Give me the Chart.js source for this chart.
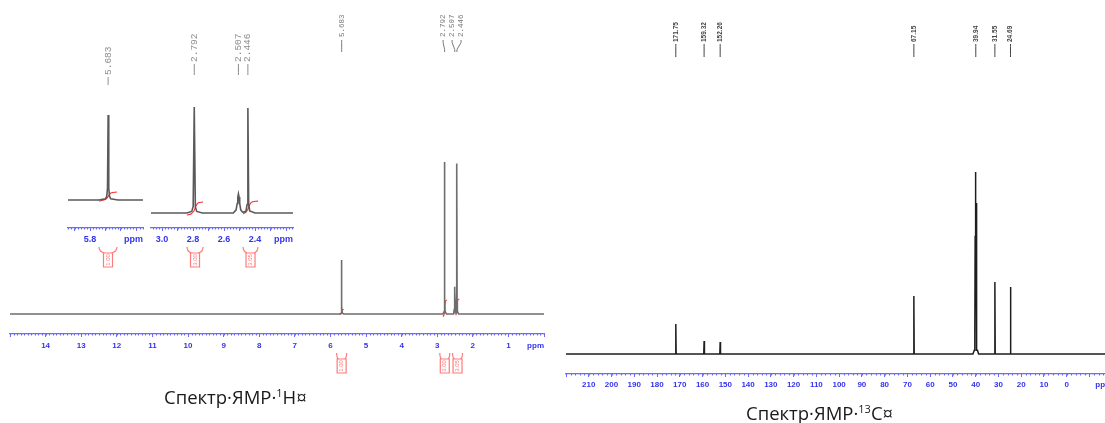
<!DOCTYPE html>
<html>
<head>
<meta charset="utf-8">
<script src="https://cdn.jsdelivr.net/npm/chart.js@4.4.1/dist/chart.umd.min.js"></script>
<style>
  body { margin: 0; background: #fff; }
  #page { position: relative; width: 1105px; height: 423px; overflow: hidden; background: #fff; }
  .holder { position: absolute; }
  .caption { position: absolute; font-family: 'Open Sans', sans-serif; font-size: 18.5px; line-height: 22px;
             color: #1a1a1a; white-space: nowrap; }
  .caption sup { font-size: 11px; vertical-align: 7px; line-height: 0; }
</style>
</head>
<body>
<div id="page">
  <div class="holder"><canvas id="h1Main"></canvas></div>
  <div class="holder"><canvas id="h1ZoomA"></canvas></div>
  <div class="holder"><canvas id="h1ZoomB"></canvas></div>
  <div class="holder"><canvas id="c13Main"></canvas></div>
  <div class="caption" style="left:164px;top:386px;">Спектр·ЯМР·<sup>1</sup>H¤</div>
  <div class="caption" style="left:746px;top:402px;">Спектр·ЯМР·<sup>13</sup>С¤</div>
</div>
<script>
/* ---------- data ---------- */

/* 1H trace: ppm / relative intensity (2.792 peak = 100) */
const h1Ppm = [15.0, 5.742, 5.700, 5.692, 5.687, 5.683, 5.679, 5.674, 5.666, 5.620,
               2.840, 2.808, 2.799, 2.792, 2.785, 2.776, 2.740,
               2.540, 2.522, 2.515, 2.511, 2.507, 2.503, 2.499, 2.492, 2.480,
               2.470, 2.458, 2.451, 2.446, 2.441, 2.434, 2.400, 0.0];
const h1Int = [0, 0, 0.5, 1.5, 5, 35.5, 5, 1.5, 0.5, 0,
               0, 1.5, 6, 100, 6, 1.5, 0,
               0, 3, 9, 15, 18, 15, 9, 3, 0.8,
               1, 2, 8, 99, 8, 2, 0, 0];

/* 1H integral curves (ppm / integral, 1H = 1.00) */
const intAPpm = [5.742, 5.710, 5.690, 5.677, 5.665, 5.626];
const intAVal = [-0.12, 0, 0.25, 0.62, 0.88, 1.0];
const intBPpm = [2.839, 2.813, 2.794, 2.781, 2.768, 2.735];
const intBVal = [-0.55, -0.27, 0.55, 1.9, 2.73, 3.0];
const intCPpm = [2.477, 2.458, 2.445, 2.432, 2.419, 2.381];
const intCVal = [-0.27, 0.27, 1.1, 2.45, 3.0, 3.25];
const integralText = ['1.00', '3.00', '3.05'];

/* 13C trace: ppm / relative intensity (39.94 = 100) */
const c13Ppm = [220, 171.9, 171.75, 171.6, 159.47, 159.32, 159.17, 152.41, 152.26, 152.11,
                67.3, 67.15, 67.0, 41.2, 40.6, 40.43, 40.36, 40.29, 40.22, 40.15, 40.08, 40.01,
                39.94, 39.87, 39.80, 39.73, 39.66, 39.59, 39.52, 39.45, 39.2, 38.7,
                31.7, 31.55, 31.4, 24.84, 24.69, 24.54, -20];
const c13Int = [0, 0, 16.5, 0, 0, 7.1, 0, 0, 6.6, 0,
                0, 31.9, 0, 0, 2, 3, 15, 10, 65, 40, 88, 60,
                100, 60, 83, 30, 22, 8, 10, 2, 2, 0,
                0, 39.6, 0, 0, 36.8, 0, 0];

/* peak labels */
const h1PeakLabels = [5.683, 2.792, 2.507, 2.446];
const c13PeakLabels = [171.75, 159.32, 152.26, 67.15, 39.94, 31.55, 24.69];

/* axis tick labels */
const h1TickLabels = [14, 13, 12, 11, 10, 9, 8, 7, 6, 5, 4, 3, 2, 1];
const zoomATickLabels = [5.8];
const zoomBTickLabels = [3.0, 2.8, 2.6, 2.4];
const c13TickLabels = [210, 200, 190, 180, 170, 160, 150, 140, 130, 120, 110, 100,
                       90, 80, 70, 60, 50, 40, 30, 20, 10, 0];

/* ---------- drawing ---------- */
const AXIS_BLUE = '#6a6aff';
const LABEL_BLUE = '#3434ee';
const INT_RED = '#f03030';
const BOX_RED = '#ff7a7a';
const PAGE_H = 423;

const integrals = [
  { ppm: intAPpm, val: intAVal, text: integralText[0] },
  { ppm: intBPpm, val: intBVal, text: integralText[1] },
  { ppm: intCPpm, val: intCVal, text: integralText[2] }
];

function spread(px, gap) {
  const pos = px.slice();
  for (let k = 0; k < 40; k++) {
    for (let i = 0; i + 1 < pos.length; i++) {
      const d = pos[i + 1] - pos[i];
      if (d < gap) { pos[i] -= (gap - d) / 2; pos[i + 1] += (gap - d) / 2; }
    }
  }
  return pos;
}

function nmrDecor(c) {
  return {
    id: 'nmrDecor',
    afterDraw(chart) {
      const ctx = chart.ctx, xs = chart.scales.x, a = chart.chartArea;
      ctx.save();

      // minor ticks
      ctx.strokeStyle = AXIS_BLUE;
      ctx.lineWidth = 1;
      ctx.beginPath();
      const start = Math.ceil(c.xMin / c.minor - 1e-6);
      const end = Math.floor(c.xMax / c.minor + 1e-6);
      for (let i = start; i <= end; i++) {
        const px = Math.round(xs.getPixelForValue(i * c.minor)) + 0.5;
        ctx.moveTo(px, a.bottom);
        ctx.lineTo(px, a.bottom + 1.5);
      }
      ctx.stroke();

      // "ppm" at the right end of the axis
      ctx.fillStyle = LABEL_BLUE;
      ctx.font = 'bold ' + c.tickFont + 'px "Liberation Sans"';
      ctx.textAlign = 'right';
      ctx.textBaseline = 'middle';
      ctx.fillText('ppm', a.right, a.bottom + 3 + c.tickPad + c.tickFont * 0.6);

      // peak labels
      const shown = c.peakLabels.filter(p => p > c.xMin && p < c.xMax);
      const peakPx = shown.map(p => xs.getPixelForValue(p));
      const labPx = spread(peakPx, c.labelGap);
      ctx.fillStyle = c.labelColor;
      ctx.strokeStyle = c.labelColor;
      ctx.font = c.labelFont;
      ctx.textAlign = 'left';
      ctx.textBaseline = 'middle';
      ctx.lineWidth = 1;
      shown.forEach((p, i) => {
        const lx = labPx[i], px = peakPx[i];
        ctx.save();
        ctx.translate(lx, c.textBottom);
        ctx.rotate(-Math.PI / 2);
        ctx.fillText(p.toFixed(c.labelDigits), 0, 0);
        ctx.restore();
        const h = c.lineBottom - c.lineTop;
        ctx.beginPath();
        ctx.moveTo(lx, c.lineTop);
        ctx.lineTo(lx, c.lineTop + h * 0.2);
        ctx.lineTo(px, c.lineTop + h * 0.8);
        ctx.lineTo(px, c.lineBottom);
        ctx.stroke();
      });

      // integral boxes under the axis
      if (c.boxTop) {
        ctx.strokeStyle = BOX_RED;
        ctx.fillStyle = BOX_RED;
        ctx.font = '6px "Liberation Sans"';
        ctx.textAlign = 'center';
        ctx.textBaseline = 'middle';
        ctx.lineWidth = 1.2;
        integrals.filter(g => g.ppm[0] < c.xMax && g.ppm[g.ppm.length - 1] > c.xMin).forEach(g => {
          let xl = xs.getPixelForValue(g.ppm[0]);
          let xr = xs.getPixelForValue(g.ppm[g.ppm.length - 1]);
          const cx = (xl + xr) / 2;
          if (xr - xl < 10) { xl = cx - 5; xr = cx + 5; }
          const t = c.boxTop;
          ctx.beginPath();
          ctx.moveTo(xl, t);
          ctx.quadraticCurveTo(xl, t + 5, cx - 3, t + 6);
          ctx.moveTo(xr, t);
          ctx.quadraticCurveTo(xr, t + 5, cx + 3, t + 6);
          ctx.rect(cx - 4.5, t + 6, 9, 14);
          ctx.stroke();
          ctx.save();
          ctx.translate(cx, t + 13);
          ctx.rotate(-Math.PI / 2);
          ctx.fillText(g.text, 0, 0);
          ctx.restore();
        });
      }
      ctx.restore();
    }
  };
}

function buildSpectrum(id, c) {
  const canvas = document.getElementById(id);
  const holder = canvas.parentNode;
  const padX = 14, axisH = 22;
  holder.style.left = (c.left - padX) + 'px';
  holder.style.top = '0px';
  holder.style.width = (c.right - c.left + 2 * padX) + 'px';
  holder.style.height = PAGE_H + 'px';

  const datasets = [{
    data: c.ppm.map((p, i) => ({ x: p, y: c.int[i] })),
    borderColor: c.lineColor,
    borderWidth: c.lineWidth,
    pointRadius: 0,
    tension: 0,
    yAxisID: 'y'
  }];
  if (c.kInt) {
    integrals.filter(g => g.ppm[0] < c.xMax && g.ppm[g.ppm.length - 1] > c.xMin).forEach(g => {
      datasets.push({
        data: g.ppm.map((p, i) => ({ x: p, y: g.val[i] })),
        borderColor: INT_RED,
        borderWidth: 1.1,
        pointRadius: 0,
        tension: 0.3,
        yAxisID: 'yi'
      });
    });
  }

  const kInt = c.kInt || 1;
  return new Chart(canvas, {
    type: 'line',
    data: { datasets },
    options: {
      responsive: true,
      maintainAspectRatio: false,
      animation: false,
      events: [],
      layout: { padding: { left: padX, right: padX, top: c.top, bottom: PAGE_H - c.bottom - axisH } },
      plugins: { legend: { display: false }, tooltip: { enabled: false } },
      scales: {
        x: {
          type: 'linear', min: c.xMin, max: c.xMax, reverse: true,
          afterBuildTicks: s => {
            const t = [];
            const a = Math.ceil(c.xMin / c.major - 1e-6), b = Math.floor(c.xMax / c.major + 1e-6);
            for (let i = a; i <= b; i++) t.push({ value: Math.round(i * c.major * 1000) / 1000 });
            s.ticks = t;
          },
          afterFit: s => { s.height = axisH; },
          grid: { drawOnChartArea: false, tickLength: 3, tickColor: AXIS_BLUE, tickWidth: 1 },
          border: { color: AXIS_BLUE, width: 1.2 },
          ticks: {
            autoSkip: false, maxRotation: 0, padding: c.tickPad, color: LABEL_BLUE,
            font: { family: 'Liberation Sans', size: c.tickFont, weight: 'bold' },
            callback: v => c.tickLabels.some(l => Math.abs(l - v) < 1e-6) ? v.toFixed(c.tickDigits) : ''
          }
        },
        y: { display: false, min: -(c.bottom - c.base) / c.kSpec, max: (c.base - c.top) / c.kSpec },
        yi: { display: false, min: -(c.bottom - c.base) / kInt, max: (c.base - c.top) / kInt }
      }
    },
    plugins: [nmrDecor(c)]
  });
}

buildSpectrum('h1Main', {
  ppm: h1Ppm, int: h1Int, xMin: 0, xMax: 15,
  left: 9.5, right: 543.5, top: 150, bottom: 334, base: 314, kSpec: 1.52, kInt: 4.67,
  major: 1, minor: 0.1, tickLabels: h1TickLabels, tickDigits: 0, tickFont: 8, tickPad: 4,
  lineColor: '#6e6e6e', lineWidth: 1.6,
  peakLabels: h1PeakLabels, labelDigits: 3, labelGap: 9, labelColor: '#7a7a7a',
  labelFont: '7.5px "Liberation Mono"', textBottom: 37, lineTop: 40, lineBottom: 52,
  boxTop: 353
});

buildSpectrum('h1ZoomA', {
  ppm: h1Ppm, int: h1Int, xMin: 5.458, xMax: 5.942,
  left: 68, right: 143, top: 95, bottom: 228, base: 200, kSpec: 2.394, kInt: 8,
  major: 0.1, minor: 0.02, tickLabels: zoomATickLabels, tickDigits: 1, tickFont: 9, tickPad: 3,
  lineColor: '#5a5a5a', lineWidth: 1.6,
  peakLabels: h1PeakLabels, labelDigits: 3, labelGap: 9, labelColor: '#8c8c8c',
  labelFont: '9.5px "Liberation Mono"', textBottom: 75, lineTop: 77, lineBottom: 85,
  boxTop: 247
});

buildSpectrum('h1ZoomB', {
  ppm: h1Ppm, int: h1Int, xMin: 2.155, xMax: 3.071,
  left: 151, right: 293, top: 95, bottom: 228, base: 213, kSpec: 1.06, kInt: 3.667,
  major: 0.1, minor: 0.02, tickLabels: zoomBTickLabels, tickDigits: 1, tickFont: 9, tickPad: 3,
  lineColor: '#5a5a5a', lineWidth: 1.6,
  peakLabels: h1PeakLabels, labelDigits: 3, labelGap: 9, labelColor: '#8c8c8c',
  labelFont: '9.5px "Liberation Mono"', textBottom: 62, lineTop: 64, lineBottom: 75,
  boxTop: 247
});

buildSpectrum('c13Main', {
  ppm: c13Ppm, int: c13Int, xMin: -20, xMax: 220,
  left: 566.3, right: 1112.5, top: 150, bottom: 374, base: 354, kSpec: 1.82,
  major: 10, minor: 2, tickLabels: c13TickLabels, tickDigits: 0, tickFont: 8, tickPad: 3,
  lineColor: '#1e1e1e', lineWidth: 1.5,
  peakLabels: c13PeakLabels, labelDigits: 2, labelGap: 9, labelColor: '#444',
  labelFont: 'bold 6.5px "Liberation Sans"', textBottom: 42, lineTop: 44, lineBottom: 57
});
</script>
</body>
</html>
